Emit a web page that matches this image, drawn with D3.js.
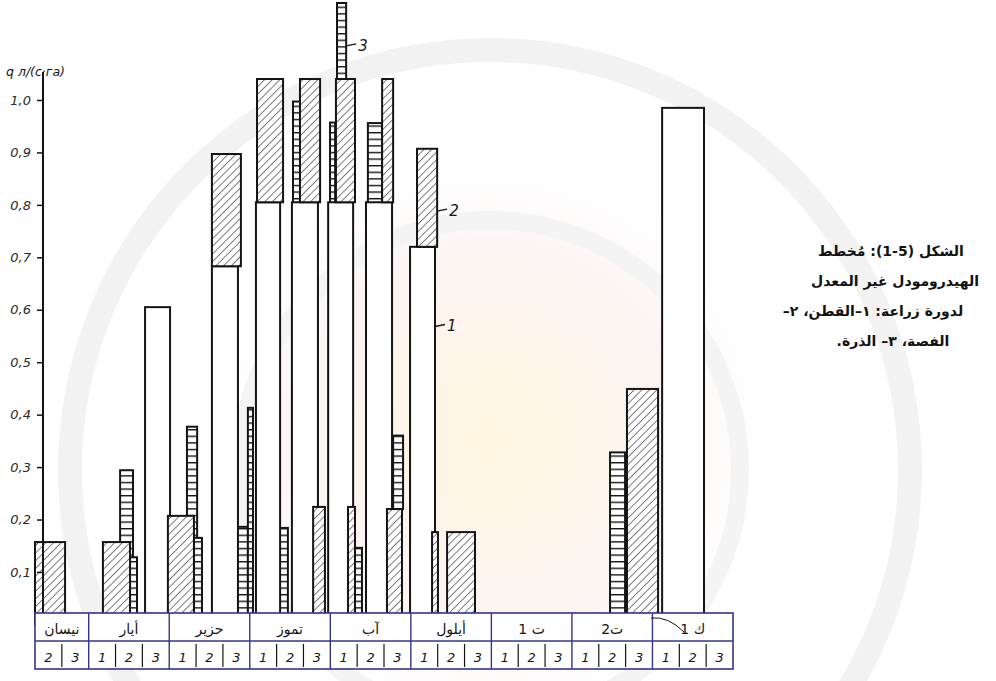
<!DOCTYPE html>
<html>
<head>
<meta charset="utf-8">
<script src="https://cdn.jsdelivr.net/npm/d3@7"></script>
<style>
  html, body { margin: 0; padding: 0; background: #fff; }
  svg { display: block; }
</style>
</head>
<body>
<svg id="chart" width="996" height="681"></svg>
<script>
// Season months (Levantine names); April only shows its 2nd and 3rd decades
const months = ["نيسان", "أيار", "حزير", "تموز", "آب", "أيلول", "ت 1", "ت2", "ك 1"];
const decadeLabels = ["1", "2", "3"];
const firstDecadeShown = 2;
const yTicks = [0.1, 0.2, 0.3, 0.4, 0.5, 0.6, 0.7, 0.8, 0.9, 1.0];
const yUnit = "q  л/(с·га)";

// Hydromodule segments: [from decade, to decade, base, top], l/(s·ha)
// decades counted from the start of April
const cotton = [
  [5.10, 6.03, 0, 0.605], [7.59, 8.56, 0, 0.683], [9.23, 10.13, 0, 0.805],
  [10.57, 11.54, 0, 0.805], [11.92, 12.85, 0, 0.805], [13.33, 14.30, 0, 0.805],
  [14.97, 15.90, 0, 0.72], [24.36, 25.92, 0, 0.985]
];
const alfalfa = [
  [1.00, 2.12, 0, 0.157], [3.53, 4.54, 0, 0.157], [5.95, 6.92, 0, 0.207],
  [7.59, 8.67, 0.683, 0.897], [9.27, 10.24, 0.805, 1.04], [10.87, 11.62, 0.805, 1.04],
  [11.36, 11.80, 0, 0.224], [12.21, 12.92, 0.805, 1.04], [12.66, 12.92, 0, 0.224],
  [13.93, 14.34, 0.805, 1.04], [14.11, 14.67, 0, 0.22], [15.23, 15.98, 0.72, 0.907],
  [15.79, 16.01, 0, 0.176], [16.35, 17.39, 0, 0.176], [23.05, 24.21, 0, 0.449]
];
const corn = [
  [4.17, 4.65, 0, 0.294], [4.54, 4.80, 0, 0.128], [6.66, 7.04, 0, 0.377],
  [6.92, 7.22, 0, 0.165], [8.45, 8.93, 0, 0.186], [8.93, 9.12, 0, 0.413],
  [9.94, 10.42, 0, 0.184], [10.61, 10.87, 0, 0.997], [11.99, 12.18, 0, 0.957],
  [12.25, 12.59, 1.04, 1.185], [12.92, 13.18, 0, 0.146], [13.40, 13.93, 0, 0.956],
  [14.34, 14.71, 0.22, 0.36], [22.42, 22.98, 0, 0.328]
];
// Curve callouts: crop number, the segment it points at, value height of the leader
const callouts = [
  { label: "1", seg: cotton[6], at: 0.57 },
  { label: "2", seg: alfalfa[11], at: 0.79 },
  { label: "3", seg: corn[9], at: 1.105 }
];
const caption = [
  "الشكل (5-1): مُخطط",
  "الهيدرومودل غير المعدل",
  "لدورة زراعة: ١–القطن، ٢–",
  "الفصة، ٣– الذرة."
];

const svg = d3.select("#chart");
const tableTop = 613, tableMid = 641, tableBottom = 669;
const x = d3.scaleLinear().domain([0, 27]).range([8.15, 733]);
const y = d3.scaleLinear().domain([0, 1]).range([624.4, 100]);
const ink = "#141414";
const tableInk = "#34348f";

// faint emblem in the paper background
const bg = svg.append("g").attr("pointer-events", "none");
const rg = svg.append("defs").append("radialGradient").attr("id", "glow");
rg.append("stop").attr("offset", "0%").attr("stop-color", "#fff5df");
rg.append("stop").attr("offset", "65%").attr("stop-color", "#fcf4f4");
rg.append("stop").attr("offset", "100%").attr("stop-color", "#ffffff").attr("stop-opacity", 0);
bg.append("circle").attr("cx", 490).attr("cy", 440).attr("r", 300).attr("fill", "url(#glow)");
bg.append("circle").attr("cx", 490).attr("cy", 470).attr("r", 420)
  .attr("fill", "none").attr("stroke", "#f2f2f2").attr("stroke-width", 24);
bg.append("circle").attr("cx", 490).attr("cy", 470).attr("r", 250)
  .attr("fill", "none").attr("stroke", "#f4f4f4").attr("stroke-width", 18);

// fill patterns: diagonal hatch (alfalfa) and ladder rungs (corn)
const defs = svg.append("defs");
const hatch = defs.append("pattern").attr("id", "hatch")
  .attr("patternUnits", "userSpaceOnUse").attr("width", 5.4).attr("height", 5.4)
  .attr("patternTransform", "rotate(45)");
hatch.append("rect").attr("width", 5.4).attr("height", 5.4).attr("fill", "#fff");
hatch.append("line").attr("x1", 0).attr("y1", 0).attr("x2", 0).attr("y2", 5.4)
  .attr("stroke", ink).attr("stroke-width", 1.1);
const ladder = defs.append("pattern").attr("id", "ladder")
  .attr("patternUnits", "userSpaceOnUse").attr("width", 8).attr("height", 6.6);
ladder.append("rect").attr("width", 8).attr("height", 6.6).attr("fill", "#fff");
ladder.append("line").attr("x1", 0).attr("y1", 0.7).attr("x2", 8).attr("y2", 0.7)
  .attr("stroke", ink).attr("stroke-width", 1.4);

// bars: corn behind, cotton, then alfalfa in front
function drawBars(data, fill) {
  svg.append("g").selectAll("rect").data(data).join("rect")
    .attr("x", d => x(d[0]))
    .attr("y", d => y(d[3]))
    .attr("width", d => x(d[1]) - x(d[0]))
    .attr("height", d => y(d[2]) - y(d[3]))
    .attr("fill", fill)
    .attr("stroke", ink).attr("stroke-width", 2);
}
drawBars(corn, "url(#ladder)");
drawBars(cotton, "#fff");
drawBars(alfalfa, "url(#hatch)");

// callout leaders
const co = svg.append("g");
callouts.forEach(c => {
  const x0 = x(c.seg[1]);
  co.append("line").attr("x1", x0).attr("x2", x0 + 10)
    .attr("y1", y(c.at) + 1).attr("y2", y(c.at) - 1)
    .attr("stroke", ink).attr("stroke-width", 1.4);
  co.append("text").attr("x", x0 + 12).attr("y", y(c.at) + 6)
    .attr("font-family", "DejaVu Sans").attr("font-style", "italic")
    .attr("font-size", 15).attr("fill", ink).text(c.label);
});

// y axis
const yAxis = d3.axisLeft(y).tickValues(yTicks).tickSize(6).tickPadding(6)
  .tickFormat(d => d3.format(".1f")(d).replace(".", ","));
const ag = svg.append("g").attr("transform", "translate(43,0)").call(yAxis);
ag.select(".domain").remove();
ag.selectAll(".tick line").attr("stroke", ink).attr("stroke-width", 1.5);
ag.selectAll(".tick text").attr("font-family", "DejaVu Sans").attr("font-style", "italic")
  .attr("font-size", 13).attr("fill", "#2a2a2a");
svg.append("line").attr("x1", 43).attr("x2", 43).attr("y1", 72).attr("y2", tableTop)
  .attr("stroke", ink).attr("stroke-width", 2);
svg.append("text").attr("x", 6).attr("y", 76)
  .attr("font-family", "DejaVu Sans").attr("font-style", "italic").attr("font-size", 12.5)
  .attr("fill", ink).text(yUnit);

// month / decade table
const tbl = svg.append("g");
const first = firstDecadeShown - 1;
const last = months.length * 3;
tbl.append("rect").attr("x", x(first)).attr("y", tableTop)
  .attr("width", x(last) - x(first)).attr("height", tableBottom - tableTop)
  .attr("fill", "#fff").attr("stroke", tableInk).attr("stroke-width", 1.6);
tbl.append("line").attr("x1", x(first)).attr("x2", x(last))
  .attr("y1", tableMid).attr("y2", tableMid).attr("stroke", tableInk).attr("stroke-width", 1.6);
const monthSpans = months.map((m, i) => ({ name: m, from: Math.max(i * 3, first), to: i * 3 + 3 }));
tbl.selectAll("line.month").data(monthSpans.slice(1)).join("line")
  .attr("x1", d => x(d.from)).attr("x2", d => x(d.from))
  .attr("y1", tableTop).attr("y2", tableBottom)
  .attr("stroke", tableInk).attr("stroke-width", 1.4);
tbl.selectAll("text.month").data(monthSpans).join("text")
  .attr("x", d => x((d.from + d.to) / 2)).attr("y", tableTop + 21)
  .attr("text-anchor", "middle").attr("direction", "rtl")
  .attr("font-family", "DejaVu Sans").attr("font-size", 14).attr("fill", ink)
  .text(d => d.name);
const decades = d3.range(first, last).map(t => ({ t, label: decadeLabels[t % 3] }));
tbl.selectAll("line.dec").data(decades.filter(d => d.t % 3 !== 0 && d.t !== first)).join("line")
  .attr("x1", d => x(d.t)).attr("x2", d => x(d.t))
  .attr("y1", tableMid + 3).attr("y2", tableBottom - 2)
  .attr("stroke", ink).attr("stroke-width", 1.2);
tbl.selectAll("text.dec").data(decades).join("text")
  .attr("x", d => x(d.t + 0.5)).attr("y", tableBottom - 7)
  .attr("text-anchor", "middle")
  .attr("font-family", "DejaVu Sans").attr("font-style", "italic").attr("font-size", 13)
  .attr("fill", ink).text(d => d.label);

// pointer drawn into the December cell
svg.append("path").attr("d", "M651,618 Q668,616 684,632")
  .attr("fill", "none").attr("stroke", ink).attr("stroke-width", 1);

// caption
svg.append("g").selectAll("text").data(caption).join("text")
  .attr("x", (d, i) => [891, 895, 873, 893][i])
  .attr("y", (d, i) => 256 + i * 30)
  .attr("text-anchor", "middle").attr("direction", "rtl")
  .attr("font-family", "DejaVu Sans").attr("font-weight", "bold")
  .attr("font-size", 14).attr("fill", "#111")
  .text(d => d);
</script>
</body>
</html>
